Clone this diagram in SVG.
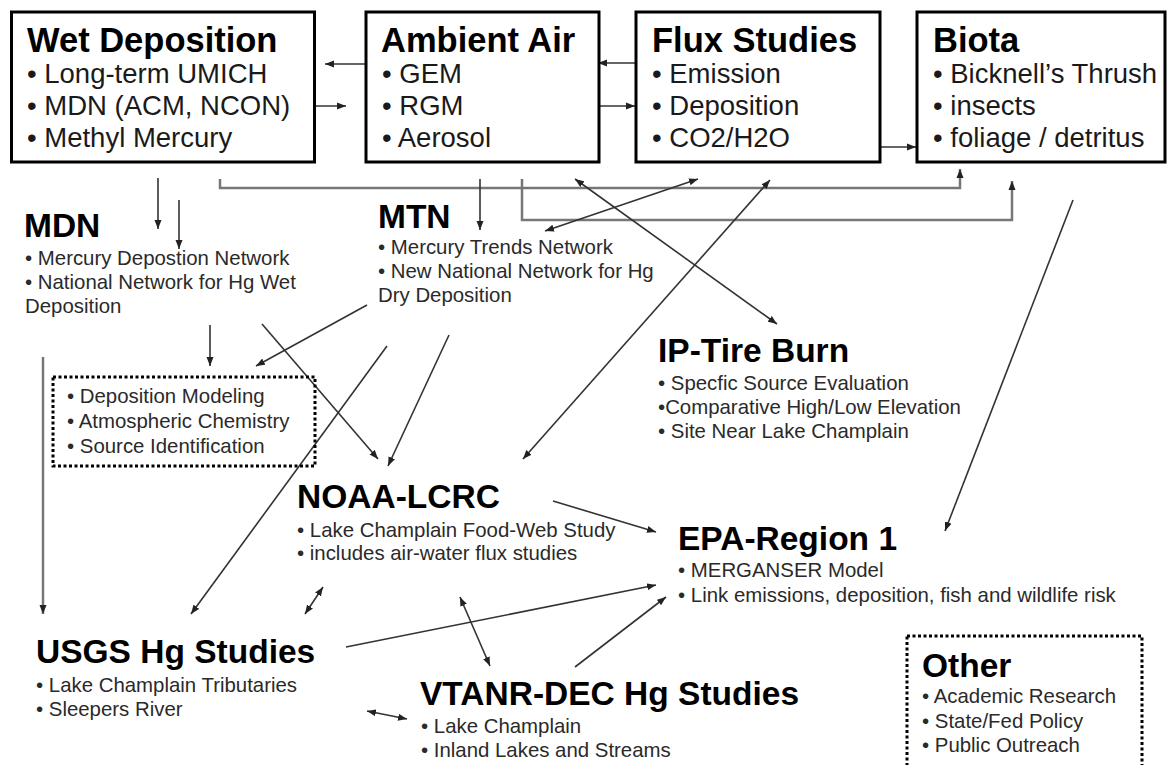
<svg xmlns="http://www.w3.org/2000/svg" width="1168" height="765" viewBox="0 0 1168 765">
<style>
.box{fill:#fff;stroke:#000;stroke-width:3}
.dot{fill:none;stroke:#000;stroke-width:3;stroke-dasharray:3 2.5}
.t1{font-family:"Liberation Sans",Arial,sans-serif;font-weight:bold;font-size:34.5px;fill:#000}
.b1{font-family:"Liberation Sans",Arial,sans-serif;font-size:27.5px;fill:#1a1a1a}
.t2{font-family:"Liberation Sans",Arial,sans-serif;font-weight:bold;font-size:33.5px;fill:#000}
.b2{font-family:"Liberation Sans",Arial,sans-serif;font-size:20.4px;fill:#2a2a2a}
.c{fill:none;stroke:#333;stroke-width:1.6}
.g{fill:none;stroke:#777;stroke-width:2.5}
.a{marker-end:url(#ah)}
.d{marker-start:url(#ah);marker-end:url(#ah)}
</style>
<defs>
<marker id="ah" markerUnits="userSpaceOnUse" markerWidth="10" markerHeight="8" refX="9" refY="4" orient="auto-start-reverse">
<path d="M0,0.5 L9,4 L0,7.5 z" fill="#222"/>
</marker>
</defs>
<rect width="1168" height="765" fill="#fff"/>

<g id="connectors">
<line class="c a" x1="366" y1="64" x2="325" y2="64"/>
<line class="c a" x1="305" y1="106" x2="346" y2="106"/>
<line class="c a" x1="636" y1="63" x2="598" y2="63"/>
<line class="c a" x1="597" y1="106" x2="635" y2="106"/>
<line class="c a" x1="877" y1="147" x2="916" y2="147"/>
<line class="c a" x1="158" y1="178" x2="158" y2="229"/>
<line class="c a" x1="179" y1="200" x2="179" y2="249"/>
<path class="g a" d="M220,179 V188 H960 V169"/>
<path class="g a" d="M522,179 V220 H1012 V181"/>
<line class="c a" x1="480" y1="179" x2="480" y2="230"/>
<line class="c d" x1="575" y1="179" x2="777" y2="324"/>
<line class="c d" x1="698" y1="179" x2="545" y2="231"/>
<line class="c d" x1="770" y1="180" x2="523" y2="459"/>
<line class="c a" x1="1073" y1="200" x2="945" y2="531"/>
<line class="c a" x1="210" y1="325" x2="210" y2="366"/>
<line class="c a" x1="367" y1="305" x2="256" y2="366"/>
<line class="c a" x1="262" y1="324" x2="378" y2="459"/>
<line class="c a" x1="449" y1="335" x2="388" y2="466"/>
<line class="c a" x1="387" y1="346" x2="191" y2="614"/>
<line class="g a" x1="43" y1="357" x2="43" y2="614"/>
<line class="c a" x1="553" y1="501" x2="656" y2="532"/>
<line class="c a" x1="346" y1="647" x2="656" y2="585"/>
<line class="c a" x1="575" y1="667" x2="666" y2="597"/>
<line class="c d" x1="323" y1="587" x2="305" y2="614"/>
<line class="c d" x1="460" y1="597" x2="490" y2="666"/>
<line class="c d" x1="367" y1="711" x2="407" y2="719"/>
</g>

<g id="wet-deposition">
<rect class="box" x="11.5" y="12" width="303" height="150"/>
<text class="t1" x="27" y="52">Wet Deposition</text>
<text class="b1" x="27" y="83">• Long-term UMICH</text>
<text class="b1" x="27" y="115">• MDN (ACM, NCON)</text>
<text class="b1" x="27" y="147">• Methyl Mercury</text>
</g>

<g id="ambient-air">
<rect class="box" x="366" y="12" width="233" height="150"/>
<text class="t1" x="381" y="52">Ambient Air</text>
<text class="b1" x="382" y="83">• GEM</text>
<text class="b1" x="382" y="115">• RGM</text>
<text class="b1" x="382" y="147">• Aerosol</text>
</g>

<g id="flux-studies">
<rect class="box" x="636" y="12" width="244" height="150"/>
<text class="t1" x="652" y="52">Flux Studies</text>
<text class="b1" x="652" y="83">• Emission</text>
<text class="b1" x="652" y="115">• Deposition</text>
<text class="b1" x="652" y="147">• CO2/H2O</text>
</g>

<g id="biota">
<rect class="box" x="917" y="12" width="248" height="150"/>
<text class="t1" x="933" y="52">Biota</text>
<text class="b1" x="933" y="83">• Bicknell’s Thrush</text>
<text class="b1" x="933" y="115">• insects</text>
<text class="b1" x="933" y="147">• foliage / detritus</text>
</g>

<g id="mdn">
<text class="t2" x="24" y="237">MDN</text>
<text class="b2" x="25" y="265">• Mercury Depostion Network</text>
<text class="b2" x="25" y="289">• National Network for Hg Wet</text>
<text class="b2" x="25" y="313">Deposition</text>
</g>

<g id="mtn">
<text class="t2" x="378" y="228">MTN</text>
<text class="b2" x="378" y="254">• Mercury Trends Network</text>
<text class="b2" x="378" y="278">• New National Network for Hg</text>
<text class="b2" x="378" y="302">Dry Deposition</text>
</g>

<g id="modeling">
<rect class="dot" x="53" y="377" width="262" height="89"/>
<text class="b2" x="67" y="403">• Deposition Modeling</text>
<text class="b2" x="67" y="428">• Atmospheric Chemistry</text>
<text class="b2" x="67" y="453">• Source Identification</text>
</g>

<g id="ip-tire-burn">
<text class="t2" x="658" y="362">IP-Tire Burn</text>
<text class="b2" x="658" y="390">• Specfic Source Evaluation</text>
<text class="b2" x="658" y="414">•Comparative High/Low Elevation</text>
<text class="b2" x="658" y="438">• Site Near Lake Champlain</text>
</g>

<g id="noaa-lcrc">
<text class="t2" x="297" y="508">NOAA-LCRC</text>
<text class="b2" x="297" y="537">• Lake Champlain Food-Web Study</text>
<text class="b2" x="297" y="560">• includes air-water flux studies</text>
</g>

<g id="epa-region-1">
<text class="t2" x="678" y="550">EPA-Region 1</text>
<text class="b2" x="678" y="577">• MERGANSER Model</text>
<text class="b2" x="678" y="602">• Link emissions, deposition, fish and wildlife risk</text>
</g>

<g id="usgs">
<text class="t2" x="36" y="663">USGS Hg Studies</text>
<text class="b2" x="36" y="692">• Lake Champlain Tributaries</text>
<text class="b2" x="36" y="716">• Sleepers River</text>
</g>

<g id="vtanr-dec">
<text class="t2" x="420" y="705">VTANR-DEC Hg Studies</text>
<text class="b2" x="421" y="733">• Lake Champlain</text>
<text class="b2" x="421" y="757">• Inland Lakes and Streams</text>
</g>

<g id="other">
<rect class="dot" x="907" y="636" width="235" height="160"/>
<text class="t2" x="922" y="677">Other</text>
<text class="b2" x="922" y="703">• Academic Research</text>
<text class="b2" x="922" y="728">• State/Fed Policy</text>
<text class="b2" x="922" y="752">• Public Outreach</text>
</g>
</svg>
